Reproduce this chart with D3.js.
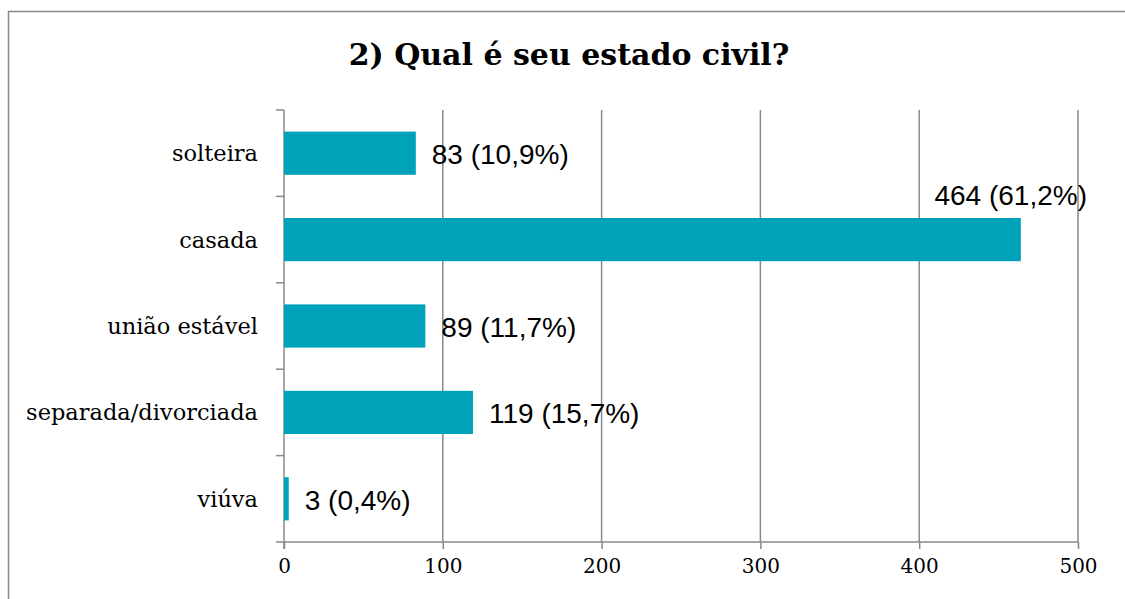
<!DOCTYPE html>
<html><head><meta charset="utf-8">
<script src="https://cdn.jsdelivr.net/npm/d3@7"></script>
<style>
html,body{margin:0;padding:0;background:#fff;}
svg{display:block;}
</style></head>
<body>
<svg id="chart" width="1125" height="599"></svg>
<script>
const title = "2) Qual é seu estado civil?";
const categories = ["solteira", "casada", "união estável", "separada/divorciada", "viúva"];
const values = [83, 464, 89, 119, 3];
const percents = ["10,9", "61,2", "11,7", "15,7", "0,4"];
const xTicks = [0, 100, 200, 300, 400, 500];

const W = 1125, H = 599;
const svg = d3.select("#chart");
const gray = "#898989";
const barColor = "#00a2b9";
const serif = "'DejaVu Serif', serif";

// frame
svg.append("path").attr("d", `M8.5,${H} L8.5,11.5 L${W},11.5`)
  .attr("fill", "none").attr("stroke", gray).attr("stroke-width", 1.5);

svg.append("text").attr("x", 569).attr("y", 65).attr("text-anchor", "middle")
  .attr("font-family", serif).attr("font-weight", "bold").attr("font-size", 30)
  .attr("fill", "#000").text(title);

const x = d3.scaleLinear().domain([0, 500]).range([284, 1078]);
const y = d3.scaleBand().domain(categories).range([110, 542]).paddingInner(0.5).paddingOuter(0.25);
const step = y.step(), bw = y.bandwidth();

// gridlines
svg.append("g").selectAll("line").data(xTicks.slice(1)).join("line")
  .attr("x1", d => x(d)).attr("x2", d => x(d)).attr("y1", 110).attr("y2", 542)
  .attr("stroke", gray).attr("stroke-width", 1.5);

// x axis
const xAxis = svg.append("g").attr("transform", "translate(0,542)")
  .call(d3.axisBottom(x).tickValues(xTicks).tickSize(7).tickPadding(20).tickSizeOuter(0));
xAxis.select(".domain").remove();
xAxis.selectAll(".tick line").attr("stroke", gray).attr("stroke-width", 1.5);
xAxis.selectAll(".tick text").attr("font-family", serif).attr("font-size", 20).attr("fill", "#000")
  .attr("dy", "0.2em");
svg.append("line").attr("x1", 276).attr("x2", x(500)).attr("y1", 542).attr("y2", 542)
  .attr("stroke", gray).attr("stroke-width", 1.5);

// y axis line and category-boundary ticks
svg.append("line").attr("x1", x(0)).attr("x2", x(0)).attr("y1", 110).attr("y2", 549)
  .attr("stroke", gray).attr("stroke-width", 1.5);
const bounds = categories.map(c => y(c) - (step - bw) / 2);
svg.append("g").selectAll("line").data(bounds).join("line")
  .attr("x1", 276).attr("x2", x(0)).attr("y1", d => d).attr("y2", d => d)
  .attr("stroke", gray).attr("stroke-width", 1.5);

// category labels
svg.append("g").selectAll("text").data(categories).join("text")
  .attr("x", 258).attr("y", d => y(d) + bw / 2 + 8).attr("text-anchor", "end")
  .attr("font-family", serif).attr("font-size", 22.5).attr("fill", "#000").text(d => d);

// bars
svg.append("g").selectAll("rect").data(values).join("rect")
  .attr("x", x(0)).attr("y", (d, i) => y(categories[i]))
  .attr("width", d => x(d) - x(0)).attr("height", bw).attr("fill", barColor);

// value labels
const labelFont = "'Liberation Sans', Arial, sans-serif";
svg.append("g").selectAll("text").data(values).join("text")
  .attr("font-family", labelFont).attr("font-size", 28).attr("fill", "#000")
  .each(function(d, i) {
    const t = d3.select(this);
    t.text(`${d} (${percents[i]}%)`);
    const w = this.getComputedTextLength();
    const xe = x(d) + 16;
    if (xe + w > 1100) {
      t.attr("x", 1087).attr("text-anchor", "end").attr("y", y(categories[i]) - 13);
    } else {
      t.attr("x", xe).attr("y", y(categories[i]) + bw / 2 + 11);
    }
  });
</script>
</body></html>
